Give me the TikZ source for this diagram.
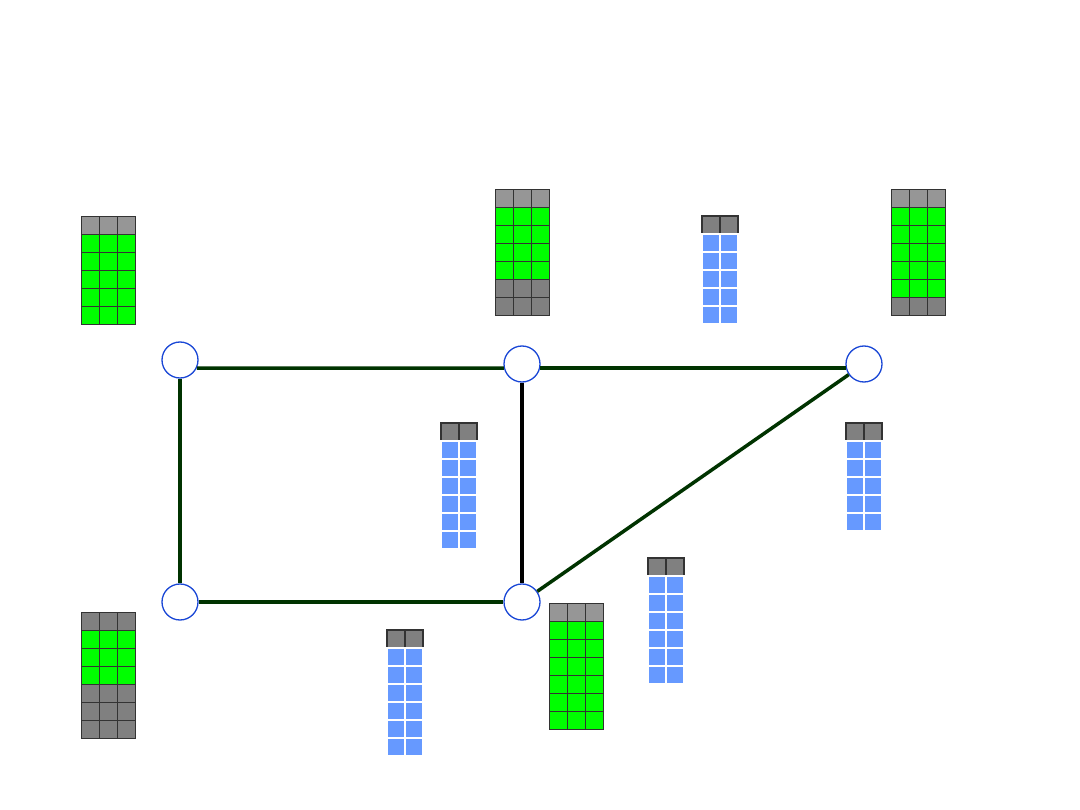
\documentclass[tikz,border=0pt]{standalone}
\definecolor{lgray}{HTML}{969696}
\definecolor{dgray}{HTML}{808080}
\definecolor{cgreen}{HTML}{00FF00}
\definecolor{cblue}{HTML}{6699FF}
\definecolor{cborder}{HTML}{333333}
\definecolor{edgegreen}{HTML}{003300}
\definecolor{nodeblue}{HTML}{1A47D6}
\tikzset{
  hd/.style={fill=lgray,draw=cborder,line width=0.9pt},
  gy/.style={fill=dgray,draw=cborder,line width=0.9pt},
  gc/.style={fill=cgreen,draw=cborder,line width=0.9pt},
  bh/.style={fill=dgray,draw=cborder,line width=1.2pt},
  bc/.style={fill=cblue,draw=white,line width=1.5pt},
  vertex/.style={circle,draw=nodeblue,fill=white,line width=1.3pt,minimum size=36pt,inner sep=0pt},
  gedge/.style={draw=edgegreen,line width=3.5pt},
  bedge/.style={draw=black,line width=4.5pt}
}
\newcommand\celltable[4]{%
  \foreach \st [count=\r from 0] in {#4} {
    \foreach \c in {1,...,#3} {
      \draw[\st] ({#1+(\c-1)*18},{#2+\r*18}) rectangle ++(18,18);
    }
  }}
\begin{document}
\begin{tikzpicture}[x=1pt,y=-1pt]
\useasboundingbox[fill=white] (0,0) rectangle (1080,810);
% nodes
\node[vertex] (A) at (180,360) {};
\node[vertex] (B) at (522,364) {};
\node[vertex] (C) at (864,364) {};
\node[vertex] (D) at (180,602) {};
\node[vertex] (E) at (522,602) {};
% edges
\draw[gedge] (A.-26) -- (B.193);
\draw[gedge] (B.-13) -- (C.193);
\draw[gedge] (A) -- (D);
\draw[gedge] (D) -- (E);
\draw[bedge] (B) -- (E);
\draw[gedge] (E) -- (C);
% tables
\celltable{81}{216}{3}{hd,gc,gc,gc,gc,gc}
\celltable{495}{189}{3}{hd,gc,gc,gc,gc,gy,gy}
\celltable{702}{216}{2}{bh,bc,bc,bc,bc,bc}
\celltable{891}{189}{3}{hd,gc,gc,gc,gc,gc,gy}
\celltable{441}{423}{2}{bh,bc,bc,bc,bc,bc,bc}
\celltable{846}{423}{2}{bh,bc,bc,bc,bc,bc}
\celltable{81}{612}{3}{gy,gc,gc,gc,gy,gy,gy}
\celltable{387}{630}{2}{bh,bc,bc,bc,bc,bc,bc}
\celltable{549}{603}{3}{hd,gc,gc,gc,gc,gc,gc}
\celltable{648}{558}{2}{bh,bc,bc,bc,bc,bc,bc}
\end{tikzpicture}
\end{document}
